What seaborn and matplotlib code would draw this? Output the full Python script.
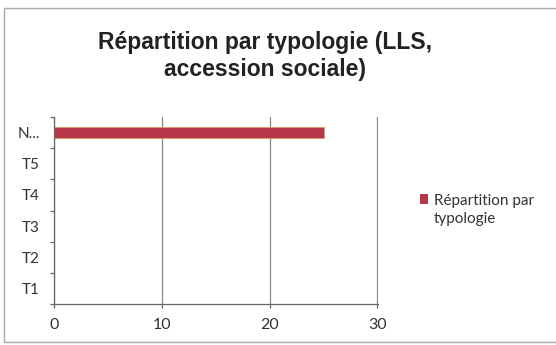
import matplotlib
matplotlib.use("Agg")
import matplotlib.pyplot as plt
import seaborn as sns
import pandas as pd
from matplotlib.patches import Rectangle

categories = ["T1", "T2", "T3", "T4", "T5", "N..."]
values = [0, 0, 0, 0, 0, 25]
series_name = "Répartition par\ntypologie"
title = "Répartition par typologie (LLS,\naccession sociale)"
x_ticks = [0, 10, 20, 30]

sns.set_theme(style="white")
plt.rcParams["font.family"] = ["Lato", "DejaVu Sans"]

df = pd.DataFrame({"cat": categories[::-1], "val": values[::-1], "series": series_name})

fig = plt.figure(figsize=(5.56, 3.45), dpi=100)
ax = fig.add_axes([54/556, 1 - 304/345, (378-54)/556, (304-117)/345])

sns.barplot(data=df, x="val", y="cat", hue="series", order=categories[::-1],
            palette=["#b8384a"], saturation=1, orient="h", width=0.37, ax=ax,
            edgecolor="#d99a55", linewidth=0.5, legend=True)

ax.set_xlim(0, 30.05)
ax.set_ylim(len(categories) - 0.5, -0.5)
ax.set_xticks(x_ticks)
ax.set_xticklabels([str(t) for t in x_ticks], fontsize=11.5, color="#333333")
ax.tick_params(axis="y", labelsize=11, labelcolor="#333333", length=0, pad=10)
ax.tick_params(axis="x", length=3, width=0.9, color="#666666", pad=7, bottom=True, direction="out")
ax.set_xlabel("")
ax.set_ylabel("")
ax.grid(axis="x", color="#888888", linewidth=0.9)
ax.set_axisbelow(True)
for s in ["top", "right"]:
    ax.spines[s].set_visible(False)
for s in ["left", "bottom"]:
    ax.spines[s].set_color("#666666")
    ax.spines[s].set_linewidth(0.9)
ax.set_yticks(range(len(categories)))
ax.set_yticklabels(categories[::-1])
ax.set_yticks([i - 0.5 for i in range(len(categories) + 1)], minor=True)
ax.tick_params(axis="y", which="minor", length=3, width=0.9, color="#666666", left=True, direction="out")

leg = ax.legend(loc="center left", bbox_to_anchor=(420/556, 1 - 210/345),
                bbox_transform=fig.transFigure, frameon=False, fontsize=11,
                handlelength=0.55, handleheight=0.55, handletextpad=0.35,
                borderpad=0, borderaxespad=0)
for t in leg.get_texts():
    t.set_color("#333333")
    t.set_linespacing(1.45)
h = leg.legend_handles[0]
h.set_edgecolor("none")
h.set_y(h.get_y() + 8)

fig.text(265/556, 1 - 56/345, title, ha="center", va="center",
         fontsize=16.5, fontweight="bold", family=["Liberation Sans", "DejaVu Sans"],
         color="#222222", linespacing=1.27)

fig.patches.append(Rectangle((4/556, 1 - 342/345), 560/556, (342-8)/345,
                             transform=fig.transFigure, fill=False,
                             edgecolor="#aaaaaa", linewidth=1.0))

fig.savefig("out.png", dpi=100)
